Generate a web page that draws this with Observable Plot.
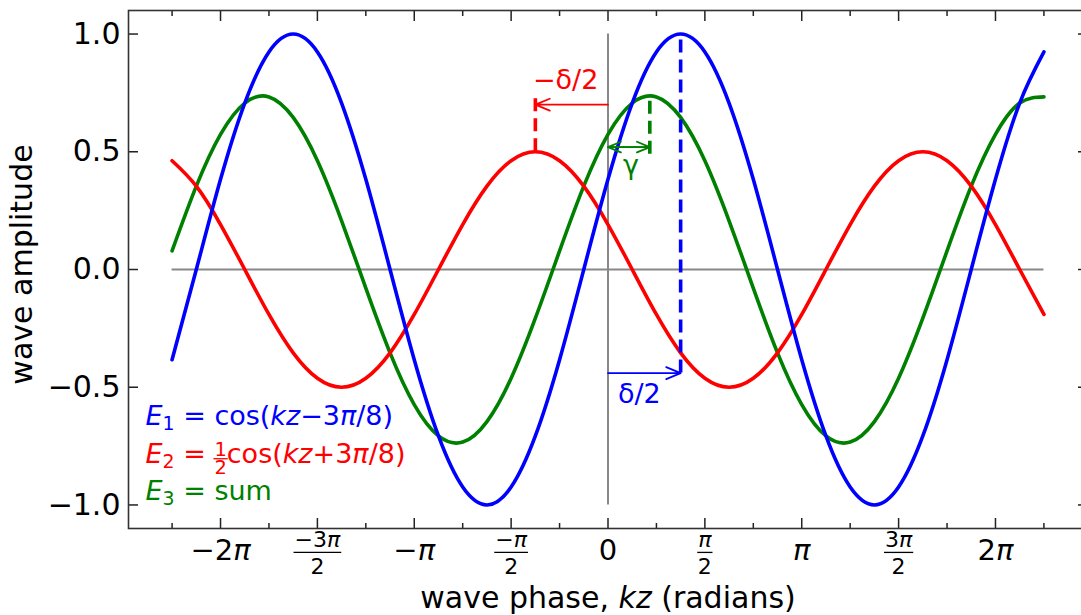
<!DOCTYPE html>
<html>
<head>
<meta charset="utf-8">
<script src="https://cdn.jsdelivr.net/npm/d3@7"></script>
<script src="https://cdn.jsdelivr.net/npm/@observablehq/plot@0.6"></script>
<style>
  html, body { margin: 0; padding: 0; background: #fff; overflow: hidden; width: 1081px; height: 615px; }
</style>
</head>
<body>
<div id="chart"></div>
<script>
const PI = Math.PI;

// wave phase kz (radians), sampled every π/8
const phase = [-7.069, -6.676, -6.283, -5.890, -5.498, -5.105, -4.712, -4.320, -3.927, -3.534,
  -3.142, -2.749, -2.356, -1.963, -1.571, -1.178, -0.785, -0.393, 0, 0.393, 0.785, 1.178,
  1.571, 1.963, 2.356, 2.749, 3.142, 3.534, 3.927, 4.320, 4.712, 5.105, 5.498, 5.890,
  6.283, 6.676, 7.069];
// E1 (blue)
const e1 = [-0.383, 0, 0.383, 0.707, 0.924, 1, 0.924, 0.707, 0.383, 0, -0.383, -0.707, -0.924,
  -1, -0.924, -0.707, -0.383, 0, 0.383, 0.707, 0.924, 1, 0.924, 0.707, 0.383, 0, -0.383,
  -0.707, -0.924, -1, -0.924, -0.707, -0.383, 0, 0.383, 0.707, 0.924];
// E2 (red)
const e2 = [0.462, 0.354, 0.191, 0, -0.191, -0.354, -0.462, -0.5, -0.462, -0.354, -0.191, 0,
  0.191, 0.354, 0.462, 0.5, 0.462, 0.354, 0.191, 0, -0.191, -0.354, -0.462, -0.5, -0.462,
  -0.354, -0.191, 0, 0.191, 0.354, 0.462, 0.5, 0.462, 0.354, 0.191, 0, -0.191];
// E3 = sum (green)
const e3 = [0.079, 0.354, 0.574, 0.707, 0.733, 0.646, 0.462, 0.207, -0.079, -0.354, -0.574,
  -0.707, -0.733, -0.646, -0.462, -0.207, 0.079, 0.354, 0.574, 0.707, 0.733, 0.646, 0.462,
  0.207, -0.079, -0.354, -0.574, -0.707, -0.733, -0.646, -0.462, -0.207, 0.079, 0.354,
  0.574, 0.707, 0.733];

// ticks (x in multiples of π)
const xIntTicksPi = [-2, -1, 0, 1, 2];
const xIntLabels = ["−2*π*", "−*π*", "0", "*π*", "2*π*"];
const xFracTicksPi = [-1.5, -0.5, 0.5, 1.5];
const xFracLabels = ["−3*π*\n2", "−*π*\n2", "*π*\n2", "3*π*\n2"];
const xMinorTicksPi = [-2.25, -1.75, -1.25, -0.75, -0.25, 0.25, 0.75, 1.25, 1.75, 2.25];
const yTicks = [-1, -0.5, 0, 0.5, 1];
const yLabels = ["−1.0", "−0.5", "0.0", "0.5", "1.0"];

// annotations: dashed markers
const dashX = [-1.178, 0.678, 1.178];
const dashY1 = [0.5, 0.49, -0.44];
const dashY2 = [0.735, 0.737, 1.0];
const dashColor = ["#ff0000", "#008000", "#0000ff"];
// arrows
const arrowFrom = [0, 0, 0, 0.678];
const arrowTo = [-1.178, 1.178, 0.678, 0];
const arrowY = [0.70, -0.44, 0.52, 0.52];
const arrowColor = ["#ff0000", "#0000ff", "#008000", "#008000"];
const annoText = ["−δ/2", "δ/2", "γ"];

const legendText = ["*E*_{1} = cos(*kz*−3*π*/8)", "*E*_{2} = ½cos(*kz*+3*π*/8)", "*E*_{3} = sum"];
const legendColor = ["#0000ff", "#ff0000", "#008000"];
const xLabel = "wave phase, *kz* (radians)";
const yLabel = "wave amplitude";

const rows = phase.map((x, i) => ({x, e1: e1[i], e2: e2[i], e3: e3[i]}));
const toRad = v => v * PI;
const xInt = xIntTicksPi.map(toRad), xFrac = xFracTicksPi.map(toRad), xMinor = xMinorTicksPi.map(toRad);
const xMajor = xInt.concat(xFrac);
const arrows = arrowFrom.map((v, i) => ({x1: v, x2: arrowTo[i], y: arrowY[i], c: arrowColor[i]}));
const dashes = dashX.map((v, i) => ({x: v, y1: dashY1[i], y2: dashY2[i], c: dashColor[i]}));
const mid = i => (arrowFrom[i] + arrowTo[i]) / 2;

const tickStyle = {stroke: "#222", strokeWidth: 1.5, label: null, tickFormat: () => ""};
const labelOf = (vals, labels) => d => labels[vals.indexOf(d)];

const plot = Plot.plot({
  width: 1092, height: 615,
  marginLeft: 128, marginRight: 5, marginTop: 10, marginBottom: 87,
  style: {fontFamily: "DejaVu Sans", maxWidth: "none", background: "#fff", overflow: "hidden"},
  x: {domain: [-2.475 * PI, 2.475 * PI]},
  y: {domain: [-1.1, 1.1]},
  marks: [
    Plot.ruleY([0], {x1: phase[0], x2: phase[phase.length - 1], stroke: "#888", strokeWidth: 2}),
    Plot.ruleX([0], {y1: d3.min(e1), y2: d3.max(e1), stroke: "#888", strokeWidth: 2}),
    Plot.line(rows, {x: "x", y: "e3", stroke: "#008000", strokeWidth: 3.6, curve: "natural"}),
    Plot.line(rows, {x: "x", y: "e2", stroke: "#ff0000", strokeWidth: 3.6, curve: "natural"}),
    Plot.line(rows, {x: "x", y: "e1", stroke: "#0000ff", strokeWidth: 3.6, curve: "natural"}),
    Plot.ruleX(dashes, {x: "x", y1: "y1", y2: "y2", stroke: "c", strokeWidth: 3.6, strokeDasharray: "13,7"}),
    Plot.arrow(arrows, {x1: "x1", x2: "x2", y1: "y", y2: "y", stroke: "c", strokeWidth: 1.8, headLength: 13, headAngle: 45}),
    Plot.text([annoText[0]], {text: d => d, x: mid(0), y: arrowY[0], dx: -6, dy: -24, fill: "#ff0000", fontSize: 27}),
    Plot.text([annoText[1]], {text: d => d, x: mid(1), y: arrowY[1], dx: -5, dy: 21, fill: "#0000ff", fontSize: 27}),
    Plot.text([annoText[2]], {text: d => d, x: mid(2), y: arrowY[2], dx: 2, dy: 18, fill: "#008000", fontSize: 27}),
    ...legendText.map((t, i) => Plot.text([t], {text: d => d, frameAnchor: "bottom-left", textAnchor: "start",
      dx: 17, dy: [-104, -66, -29][i], fill: legendColor[i], fontSize: 27})),
    Plot.text([xLabel], {text: d => d, frameAnchor: "bottom", dy: 79, fontSize: 30, fill: "#000"}),
    Plot.text([yLabel], {text: d => d, frameAnchor: "left", textAnchor: "middle", rotate: -90, dx: -106, dy: -5, fontSize: 30, fill: "#000"}),
    // inward ticks on all four sides
    Plot.axisX(xMajor, {anchor: "bottom", tickSize: -10, ...tickStyle}),
    Plot.axisX(xMinor, {anchor: "bottom", tickSize: -5, ...tickStyle}),
    Plot.axisX(xMajor, {anchor: "top", tickSize: -10, ...tickStyle}),
    Plot.axisX(xMinor, {anchor: "top", tickSize: -5, ...tickStyle}),
    Plot.axisY(yTicks, {anchor: "left", tickSize: -10, ...tickStyle}),
    Plot.axisY(yTicks, {anchor: "right", tickSize: -10, ...tickStyle}),
    // tick labels
    Plot.axisX(xInt, {anchor: "bottom", tickSize: 0, tickPadding: 11, fontSize: 29, label: null, fill: "#000",
      tickFormat: labelOf(xInt, xIntLabels)}),
    Plot.axisX(xFrac, {anchor: "bottom", tickSize: 0, tickPadding: 0, fontSize: 22, lineHeight: 1.2, label: null, fill: "#000",
      tickFormat: labelOf(xFrac, xFracLabels)}),
    Plot.axisY(yTicks, {anchor: "left", tickSize: 0, tickPadding: 8, fontSize: 30, label: null, fill: "#000",
      tickFormat: labelOf(yTicks, yLabels)}),
    Plot.frame({stroke: "#333", strokeWidth: 1.6})
  ]
});
document.getElementById("chart").append(plot);

// --- rich text: italics (*...*), subscripts (_{...}), stacked ½ ---
const NS = "http://www.w3.org/2000/svg";
function parseMarkup(s) {
  const segs = []; let italic = false; let buf = "";
  const push = () => { if (buf) segs.push({t: buf, italic}); buf = ""; };
  for (let i = 0; i < s.length; i++) {
    const c = s[i];
    if (c === "*") { push(); italic = !italic; }
    else if (c === "_" && s[i + 1] === "{") { push(); const j = s.indexOf("}", i); segs.push({t: s.slice(i + 2, j), sub: true}); i = j; }
    else if (c === "½") { push(); segs.push({frac: ["1", "2"]}); }
    else buf += c;
  }
  push();
  return segs;
}
function addBar(textEl, x1, x2, y, color) {
  const l = document.createElementNS(NS, "line");
  l.setAttribute("x1", x1); l.setAttribute("x2", x2); l.setAttribute("y1", y); l.setAttribute("y2", y);
  l.setAttribute("stroke", color); l.setAttribute("stroke-width", 1.3);
  if (textEl.getAttribute("transform")) l.setAttribute("transform", textEl.getAttribute("transform"));
  textEl.parentNode.appendChild(l);
}
function richify(node, textEl) {
  const s = node.textContent;
  if (!/[*_½]/.test(s)) return;
  const cs = getComputedStyle(node);
  const fs = parseFloat(cs.fontSize);
  const color = cs.fill;
  const segs = parseMarkup(s);
  node.textContent = "";
  let shift = 0;
  for (const seg of segs) {
    if (seg.frac) {
      const sfs = fs * 0.72;
      const a = document.createElementNS(NS, "tspan");
      a.textContent = seg.frac[0]; a.setAttribute("font-size", sfs);
      const up = -0.24 * fs; a.setAttribute("dy", up - shift); shift = up;
      node.appendChild(a);
      const w = a.getComputedTextLength();
      const b = document.createElementNS(NS, "tspan");
      b.textContent = seg.frac[1]; b.setAttribute("font-size", sfs);
      const down = 0.44 * fs; b.setAttribute("dy", down - shift); shift = down;
      b.setAttribute("dx", -w);
      node.appendChild(b);
      const p = a.getStartPositionOfChar(0);
      addBar(textEl, p.x - 1, p.x + w + 1, p.y + 0.1 * fs, color);
      continue;
    }
    const t = document.createElementNS(NS, "tspan");
    t.textContent = seg.t;
    if (seg.italic) t.setAttribute("font-style", "italic");
    let target = 0;
    if (seg.sub) { t.setAttribute("font-size", fs * 0.7); target = 0.2 * fs; }
    if (target !== shift) { t.setAttribute("dy", target - shift); shift = target; }
    node.appendChild(t);
  }
}
// remember which labels are stacked fractions (multi-line) before enriching
const fracTexts = Array.from(plot.querySelectorAll("text"))
  .filter(t => Array.from(t.children).filter(c => c.tagName === "tspan").length >= 2);
plot.querySelectorAll("text").forEach(t => {
  const kids = Array.from(t.children).filter(c => c.tagName === "tspan");
  if (kids.length) kids.forEach(k => richify(k, t)); else richify(t, t);
});
// fraction bars on stacked x tick labels
fracTexts.forEach(t => {
  const kids = Array.from(t.children).filter(c => c.tagName === "tspan");
  const fs = parseFloat(getComputedStyle(t).fontSize);
  const num = kids[0], den = kids[1];
  const w = num.getComputedTextLength();
  const p = num.getStartPositionOfChar(0);
  const q = den.getStartPositionOfChar(0);
  const y = (p.y + q.y - 0.73 * fs) / 2;
  addBar(t, p.x - 1, p.x + w + 1, y, "#000");
});
</script>
</body>
</html>
